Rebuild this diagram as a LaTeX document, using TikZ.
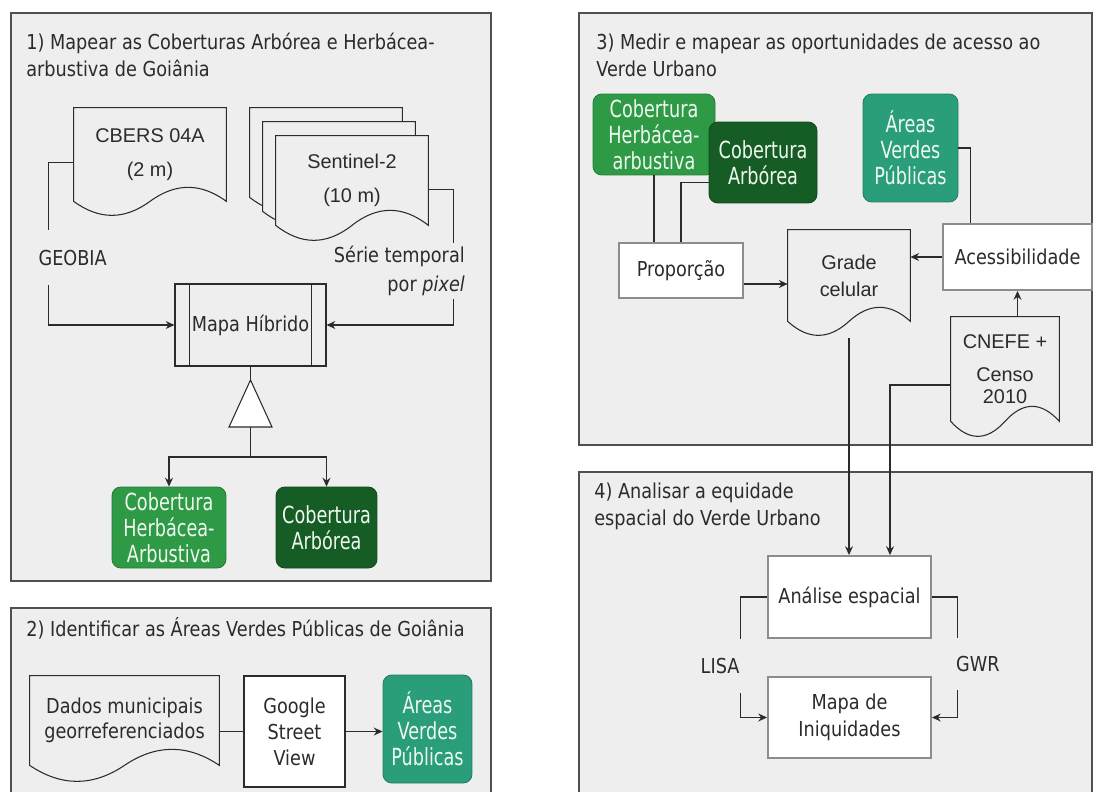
\documentclass[tikz,border=0pt]{standalone}
\usepackage{fontspec}
\setmainfont{DejaVu Sans}[FakeStretch=0.86]
\newfontfamily\arialfont{Liberation Sans}
\newfontfamily\condfont{DejaVu Sans}[FakeStretch=0.75]
\usetikzlibrary{calc,arrows.meta}

\definecolor{panelbg}{HTML}{EEEEEE}
\definecolor{panelline}{HTML}{505050}
\definecolor{ink}{HTML}{2B2B2B}
\definecolor{boxline}{HTML}{8C8C8C}
\definecolor{herbgreen}{HTML}{2E9A46}
\definecolor{arbgreen}{HTML}{165C25}
\definecolor{avpgreen}{HTML}{2A9E7B}
\definecolor{palegreen}{HTML}{EEF8EE}

\pgfdeclarelayer{back}
\pgfdeclarelayer{mid}
\pgfsetlayers{back,mid,main}

% document outline with wavy bottom: node, wave height (px)
\newcommand{\wavydoc}[2]{%
	\begin{pgfonlayer}{mid}
	\filldraw[docline] (#1.south west) -- (#1.north west) -- (#1.north east) -- (#1.south east)
		.. controls ($(#1.south east)!1/6!(#1.south west)+(0,-4*#2/3)$) and ($(#1.south)!1/3!(#1.south east)+(0,-4*#2/3)$) .. (#1.south)
		.. controls ($(#1.south)!1/3!(#1.south west)+(0,4*#2/3)$) and ($(#1.south west)!1/6!(#1.south east)+(0,4*#2/3)$) .. (#1.south west) -- cycle;
	\end{pgfonlayer}}

\tikzset{
	>={Stealth[length=5pt,width=4.5pt]},
	panel/.style={fill=panelbg, draw=panelline, line width=0.8pt},
	ttl/.style={anchor=west, align=left, inner sep=0pt, text=ink, font=\fontsize{11.7}{15.3}\selectfont},
	docline/.style={fill=panelbg, draw=ink, line width=0.6pt},
	docnode/.style={inner sep=0pt, align=center, text=ink, font=\arialfont\fontsize{11.3}{19}\selectfont},
	greenbox/.style={rounded corners=5pt, draw=#1!80!black, fill=#1, line width=0.5pt, minimum height=1.62cm, inner sep=0pt, align=center, text=palegreen, font=\condfont\fontsize{13.4}{14.7}\selectfont},
	graybox/.style={fill=white, draw=boxline, line width=1.1pt, inner sep=0pt, align=center, text=ink, font=\fontsize{11.7}{15.3}\selectfont},
	plainbox/.style={fill=white, draw=ink, line width=0.6pt, inner sep=0pt, align=center, text=ink, font=\fontsize{11.7}{14.7}\selectfont},
	lbl/.style={fill=panelbg, inner xsep=1pt, text=ink, font=\fontsize{11.7}{16.4}\selectfont},
	link/.style={draw=ink, line width=0.6pt}
}

\begin{document}
\begin{tikzpicture}[x=0.02cm, y=-0.02cm]
	\useasboundingbox (0,0) rectangle (1094,791);
	\clip (0,0) rectangle (1094,791);

	\begin{pgfonlayer}{back}
	\draw[panel] (11,13) rectangle (491,581);
	\draw[panel] (11,608) rectangle (491,810);
	\draw[panel] (579,13) rectangle (1092,445);
	\draw[panel] (579,472) rectangle (1092,810);
	\end{pgfonlayer}

	% 1) coberturas
	\node[ttl] (t1) at (26,54.5) {1) Mapear as Coberturas Arbórea e Herbácea-\\arbustiva de Goiânia};
	\node[docnode, minimum width=3.04cm, minimum height=1.86cm] (cbers) at (150,154.5) {CBERS 04A\\(2 m)};
	\wavydoc{cbers}{14}
	\node[docnode, minimum width=3.04cm, minimum height=1.78cm] (sentA) at (326,152.5) {};
	\wavydoc{sentA}{15}
	\node[docnode, minimum width=3.04cm, minimum height=1.78cm] (sentB) at (339,166.5) {};
	\wavydoc{sentB}{15}
	\node[docnode, minimum width=3.04cm, minimum height=1.78cm] (sent) at (352,180.5) {Sentinel-2\\(10 m)};
	\wavydoc{sent}{15}
	\node[plainbox, fill=none, minimum width=3.02cm, minimum height=1.64cm] (mapa) at (250.5,325) {Mapa Híbrido};
	\draw[link] ([xshift=0.3cm]mapa.north west) -- ([xshift=0.3cm]mapa.south west);
	\draw[link] ([xshift=-0.3cm]mapa.north east) -- ([xshift=-0.3cm]mapa.south east);
	\coordinate (tri) at (250.5,403.5);
	\filldraw[link, fill=white] ($(tri)+(0,-23.5)$) coordinate (tritop) -- ($(tri)+(21.5,23.5)$) -- ($(tri)+(-21.5,23.5)$) -- cycle;
	\coordinate (tribot) at ($(tri)+(0,23.5)$);
	\node[greenbox=herbgreen, minimum width=2.28cm] (herb1) at (169,527.5) {Cobertura\\Herbácea-\\Arbustiva};
	\node[greenbox=arbgreen, minimum width=2.02cm] (arb1) at (326.5,527.5) {Cobertura\\Arbórea};

	\draw[link, ->] ([yshift=-0.16cm]cbers.west) -- ++(-25,0) |- (mapa.west) node[lbl, pos=0.293, xshift=0.48cm, inner ysep=0.39cm] {GEOBIA};
	\draw[link, ->] ([yshift=-0.18cm]sent.east) -- ++(25,0) |- (mapa.east) node[lbl, pos=0.3, xshift=-1.08cm, inner ysep=2pt, align=right] {Série temporal\\por \textit{pixel}};
	\draw[link] (mapa.south) -- (tritop);
	\draw[link, line width=0.9pt, ->] (tribot) -- ++(0,30) -| (herb1.north);
	\draw[link, line width=0.9pt, ->] (tribot) -- ++(0,30) -| (arb1.north);

	% 2) areas verdes publicas
	\node[ttl] (t2) at (26,628) {2) Identificar as Áreas Verdes Públicas de Goiânia};
	\node[docnode, minimum width=3.78cm, minimum height=1.78cm, font=\fontsize{11.7}{14.2}\selectfont] (dados) at (124.5,720.5) {Dados municipais\\georreferenciados};
	\wavydoc{dados}{16}
	\node[plainbox, minimum width=2.02cm, minimum height=2.22cm] (google) at (294.5,731.5) {Google\\Street\\View};
	\node[greenbox=avpgreen, minimum width=1.78cm, minimum height=2.16cm] (avp2) at (427.5,729) {Áreas\\Verdes\\Públicas};

	\draw[link] (google.west -| dados.east) -- (google.west);
	\draw[link, ->] (google.east) -- (google.east -| avp2.west);

	% 3) acesso ao verde urbano
	\node[ttl] (t3) at (596,55) {3) Medir e mapear as oportunidades de acesso ao\\Verde Urbano};
	\node[greenbox=herbgreen, minimum width=2.44cm] (herb3) at (654,134.5) {Cobertura\\Herbácea-\\arbustiva};
	\node[greenbox=arbgreen, minimum width=2.16cm] (arb3) at (763,162.5) {Cobertura\\Arbórea};
	\node[greenbox=avpgreen, minimum width=1.9cm, minimum height=2.16cm] (avp3) at (910.5,148) {Áreas\\Verdes\\Públicas};
	\node[graybox, minimum width=2.48cm, minimum height=1.1cm] (prop) at (681,270.5) {Proporção};
	\node[docnode, minimum width=2.44cm, minimum height=1.82cm, font=\arialfont\fontsize{11.3}{15.3}\selectfont] (grade) at (849,275.5) {Grade\\celular};
	\wavydoc{grade}{14}
	\node[graybox, minimum width=2.98cm, minimum height=1.32cm] (acess) at (1017.5,257) {Acessibilidade};
	\node[docnode, minimum width=2.16cm, minimum height=2.08cm, font=\arialfont\fontsize{11.3}{12}\selectfont] (cnefe) at (1005,369) {CNEFE +\\[7pt]Censo\\2010};
	\wavydoc{cnefe}{15}

	\draw[link] (herb3.south) -- (herb3.south |- prop.north);
	\draw[link] ([yshift=-0.4cm]arb3.west) -| (prop.north);
	\coordinate (gradein) at ([yshift=-0.17cm]grade.west);
	\draw[link, line width=1pt, ->] (prop.east |- gradein) -- (gradein);
	\draw[link, ->] (acess.west) -- (acess.west -| grade.east);
	\draw[link] (avp3.east) -- ++(12,0) coordinate (avpc) -- (avpc |- acess.north);
	\draw[link, ->] (acess.south |- cnefe.north) -- (acess.south);

	% 4) equidade espacial
	\node[ttl] (t4) at (594,506.5) {4) Analisar a equidade\\espacial do Verde Urbano};
	\node[graybox, minimum width=3.26cm, minimum height=1.64cm] (analise) at (849.5,597) {Análise espacial};
	\node[graybox, minimum width=3.26cm, minimum height=1.62cm, font=\fontsize{11.7}{15.6}\selectfont] (iniq) at (849.5,717.5) {Mapa de\\Iniquidades};

	\draw[link, ->] ([yshift=-0.34cm]grade.south) -- (grade.south |- analise.north);
	\draw[link, ->] ([yshift=-0.32cm]cnefe.west) -| ([xshift=0.81cm]analise.north);
	\draw[link, ->] (analise.west) -- ++(-27,0) |- (iniq.west) node[lbl, pos=0.286, xshift=-0.4cm, inner ysep=0.39cm] {LISA};
	\draw[link, ->] (analise.east) -- ++(26,0) |- (iniq.east) node[lbl, pos=0.278, xshift=0.4cm, inner ysep=0.37cm] {GWR};
\end{tikzpicture}
\end{document}
